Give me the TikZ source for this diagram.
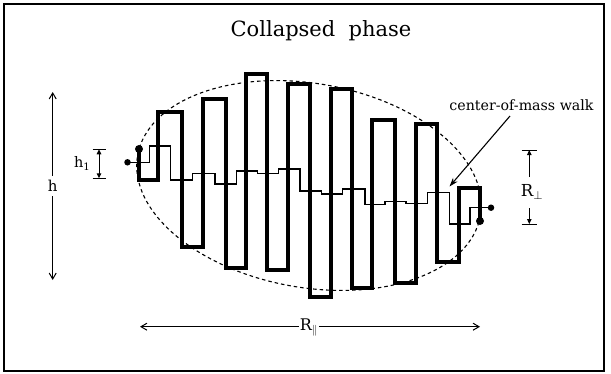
\documentclass[tikz,border=0pt]{standalone}
\usepackage{fontspec}
\setmainfont{DejaVu Serif}
\usetikzlibrary{arrows.meta}
\tikzset{
  bigbarb/.tip={Straight Barb[length=6pt,width=7pt,line width=1pt]},
  smalltri/.tip={Triangle[length=5pt,width=4.5pt]},
  cmtri/.tip={Stealth[length=9pt,width=6pt]}
}
\begin{document}
\begin{tikzpicture}[x=1pt,y=-1pt,
  frame/.style={line width=1.8pt},
  thickwalk/.style={line width=3.4pt, line join=miter},
  thinwalk/.style={line width=1.1pt},
  envelope/.style={line width=1.1pt, dash pattern=on 3.5pt off 3pt},
  dimline/.style={line width=1pt},
  dot/.style={circle, fill=black, inner sep=0pt, minimum size=#1},
  lbl/.style={inner sep=1pt}]
\useasboundingbox (0,0) rectangle (611,373);
\draw[frame] (4,4) rectangle (604,371);

\node[font=\fontsize{21}{25}\selectfont, anchor=base] (title) at (321,36.5) {Collapsed\ \ phase};

% envelope
\draw[envelope, rotate around={-10:(309,185.5)}] (309,185.5) ellipse [x radius=174, y radius=102];

% thick chain walk
\node[dot=8pt] (ts) at (139,149) {};
\node[dot=8pt] (te) at (480,221) {};
\draw[thickwalk] (ts.center) -- (139,180) -- (158,180) -- (158,112) -- (182,112) -- (182,247) -- (203,247) -- (203,99) -- (226,99) -- (226,268) -- (246,268) -- (246,74) -- (267,74) -- (267,270) -- (288,270) -- (288,84) -- (310,84) -- (310,297) -- (331,297) -- (331,89) -- (352,89) -- (352,288) -- (372,288) -- (372,120) -- (395,120) -- (395,283) -- (416,283) -- (416,124) -- (437,124) -- (437,262) -- (459,262) -- (459,188) -- (480,188) -- (te.center);

% center of mass walk
\node[dot=6.5pt] (cs) at (127.5,162.3) {};
\node[dot=6.5pt] (ce) at (491,207.7) {};
\draw[thinwalk] (cs.center) -- (149.3,162.3) -- (149.3,146) -- (170.7,146) -- (170.7,180) -- (192.7,180) -- (192.7,173.3) -- (215,173.3) -- (215,184) -- (236.7,184) -- (236.7,171) -- (257.3,171) -- (257.3,173.3) -- (278.3,173.3) -- (278.3,169) -- (300,169) -- (300,191) -- (321.7,191) -- (321.7,194) -- (342.7,194) -- (342.7,189) -- (365,189) -- (365,204.3) -- (385,204.3) -- (385,201.7) -- (406,201.7) -- (406,203.3) -- (427.3,203.3) -- (427.3,192.7) -- (449.3,192.7) -- (449.3,224) -- (470,224) -- (470,207.7) -- (ce.center);

% label center-of-mass walk
\node[font=\fontsize{14.2}{17}\selectfont, anchor=base] (cmw) at (521.5,110.5) {center-of-mass walk};
\coordinate (cmtip) at (449.5,186.5);
\draw[line width=1.1pt, -cmtri] (510,116) -- (cmtip);

% h
\node[font=\fontsize{15}{17}\selectfont] (hl) at (52.7,186) {h};
\coordinate (htop) at (52.7,92);
\coordinate (hbot) at (52.7,280);
\draw[dimline, -bigbarb] (hl.north) ++(0,-1) -- (htop);
\draw[dimline, -bigbarb] (hl.south) ++(0,1) -- (hbot);

% h1
\coordinate (h1a) at (99,149.3);
\coordinate (h1b) at (99,178.3);
\draw[dimline] (92.5,149.3) -- (106,149.3);
\draw[dimline] (92.5,178.3) -- (106,178.3);
\draw[dimline, smalltri-smalltri] (h1a) -- (h1b);
\node[font=\fontsize{14.5}{17}\selectfont, anchor=east, lbl] (h1l) at (91.5,163.5) {h$_{\mathrm{1}}$};

% R perp
\coordinate (rpa) at (529.3,150);
\coordinate (rpb) at (529.3,224);
\draw[dimline] (521.5,150) -- (537,150);
\draw[dimline] (521.5,224) -- (537,224);
\node[font=\fontsize{16.5}{19}\selectfont, lbl] (rpl) at (532,192) {R$_{\perp}$};
\draw[dimline, -smalltri] (529.3,177) -- (rpa);
\draw[dimline, -smalltri] (529.3,208) -- (rpb);

% R parallel
\coordinate (rla) at (140,326.7);
\coordinate (rlb) at (480,326.7);
\node[font=\fontsize{16}{19}\selectfont, lbl] (rll) at (309,327.5) {R$_{\|}$};
\draw[dimline, -bigbarb] (rll.west) ++(0,-0.8) -- (rla);
\draw[dimline, -bigbarb] (rll.east) ++(0,-0.8) -- (rlb);
\end{tikzpicture}
\end{document}
